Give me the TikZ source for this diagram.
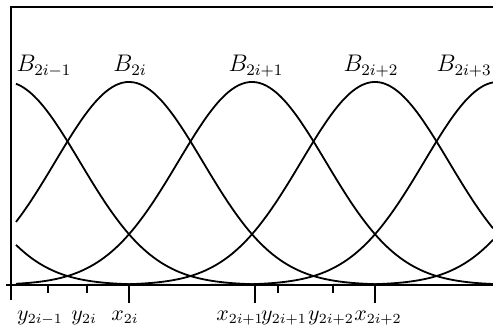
\documentclass[tikz,border=0pt]{standalone}
\usepackage{tikz}
\usetikzlibrary{positioning}
\begin{document}
\begin{tikzpicture}[x=0.5pt, y=-0.5pt,
  basis/.style={line width=0.9pt},
  axisline/.style={line width=0.9pt},
  blabel/.style={anchor=base, font=\large, inner sep=0pt},
  knotlabel/.style={anchor=base, font=\fontsize{10.5}{12}\selectfont, inner sep=0pt}]
  \useasboundingbox (0,0) rectangle (493,326);
  % frame and axis
  \draw[axisline] (11,300) -- (11,7) -- (493,7);
  \draw[axisline] (6,285) -- (493,285);
  % ticks: long ones at the x's, short ones at the y's
  \foreach \t in {129,255,375} \draw[axisline] (\t,285) -- (\t,303);
  \foreach \t in {48,87,278,333} \draw[axisline] (\t,285) -- (\t,293);
  % basis functions
  \foreach \c/\lo/\hi in {-117/16/253, 6/16/376, 129/16/493, 252/16/493,
                          375/16/493, 498/128/493, 621/251/493}
    \draw[basis, domain=\lo:\hi, samples=140, smooth]
      plot (\x, {285-203*exp(-1.386*((\x-(\c))/123)^2)});
  % labels
  \node[blabel] (bm1) at (44,72) {$B_{2i-1}$};
  \node[blabel] (b0) at (130,72) {$B_{2i}$};
  \node[blabel] (b1) at (256,72) {$B_{2i+1}$};
  \node[blabel] (b2) at (371,72) {$B_{2i+2}$};
  \node[blabel, anchor=base east] (b3) at (492,72) {$B_{2i+3}$};
  \node[knotlabel] (ym1) at (40,320) {$y_{2i-1}$};
  \node[knotlabel] (y0) at (84,320) {$y_{2i}$};
  \node[knotlabel] (x0) at (125,320) {$x_{2i}$};
  \node[knotlabel] (x1) at (240,320) {$x_{2i+1}$};
  \node[knotlabel] (y1) at (284,320) {$y_{2i+1}$};
  \node[knotlabel] (y2) at (331,320) {$y_{2i+2}$};
  \node[knotlabel] (x2) at (378,320) {$x_{2i+2}$};
\end{tikzpicture}
\end{document}
